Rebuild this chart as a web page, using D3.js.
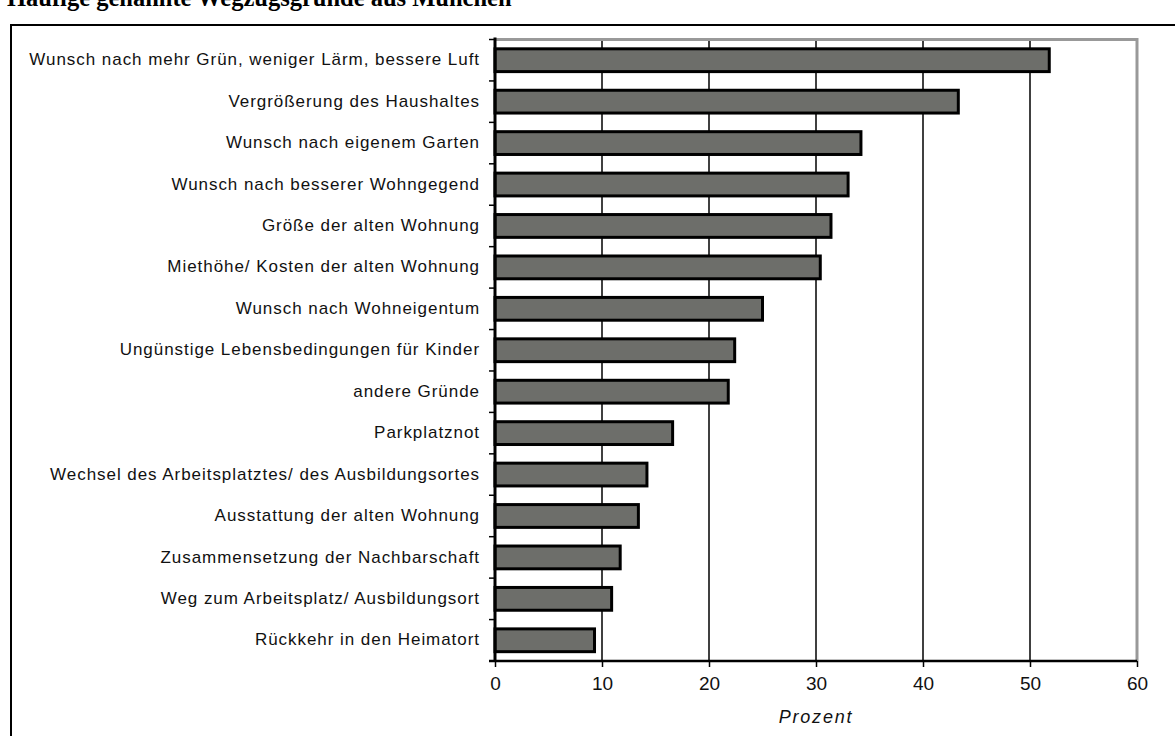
<!DOCTYPE html>
<html><head><meta charset="utf-8">
<script src="https://cdn.jsdelivr.net/npm/d3@7"></script>
<style>
html,body{margin:0;padding:0;background:#fff;overflow:hidden;}
svg{display:block;}
</style></head>
<body>
<svg id="chart" width="1175" height="736"></svg>
<script>
const title = "Häufige genannte Wegzugsgründe aus München";
const categories = [
  "Wunsch nach mehr Grün, weniger Lärm, bessere Luft",
  "Vergrößerung des Haushaltes",
  "Wunsch nach eigenem Garten",
  "Wunsch nach besserer Wohngegend",
  "Größe der alten Wohnung",
  "Miethöhe/ Kosten der alten Wohnung",
  "Wunsch nach Wohneigentum",
  "Ungünstige Lebensbedingungen für Kinder",
  "andere Gründe",
  "Parkplatznot",
  "Wechsel des Arbeitsplatztes/ des Ausbildungsortes",
  "Ausstattung der alten Wohnung",
  "Zusammensetzung der Nachbarschaft",
  "Weg zum Arbeitsplatz/ Ausbildungsort",
  "Rückkehr in den Heimatort"
];
const values = [51.8, 43.3, 34.2, 33.0, 31.4, 30.4, 25.0, 22.4, 21.8, 16.6, 14.2, 13.4, 11.7, 10.9, 9.3];
const xTicks = [0, 10, 20, 30, 40, 50, 60];
const xLabel = "Prozent";

const svg = d3.select("#chart");
const pLeft = 495, pRight = 1137, pTop = 39.5, pBottom = 661;

const x = d3.scaleLinear().domain([0, 60]).range([pLeft, pRight]);
const y = d3.scaleBand().domain(categories).range([pTop, pBottom]).paddingInner(0.45).paddingOuter(0.225);

// outer frame
svg.append("rect").attr("x", 11).attr("y", 25).attr("width", 1200).attr("height", 800)
  .attr("fill", "none").attr("stroke", "#000").attr("stroke-width", 2);

// title (cut off at top, as in the reference)
svg.append("text").attr("x", 7).attr("y", 6)
  .attr("font-family", "Liberation Serif, Times New Roman, serif").attr("font-weight", "bold")
  .attr("font-size", 24.5).attr("fill", "#000").text(title);

// grid lines
svg.append("g").selectAll("line").data(xTicks.filter(t => t > 0 && t < 60)).join("line")
  .attr("x1", d => x(d)).attr("x2", d => x(d)).attr("y1", pTop).attr("y2", pBottom)
  .attr("stroke", "#000").attr("stroke-width", 1.5);

// plot border top/right (grey)
svg.append("path").attr("d", `M${pLeft},${pTop}H${pRight}V${pBottom}`)
  .attr("fill", "none").attr("stroke", "#999").attr("stroke-width", 3);

// bars
svg.append("g").selectAll("rect").data(values).join("rect")
  .attr("x", x(0)).attr("y", (d, i) => y(categories[i]))
  .attr("width", d => x(d) - x(0)).attr("height", y.bandwidth())
  .attr("fill", "#6d6e6a").attr("stroke", "#000").attr("stroke-width", 3);

// y axis
const yAxis = d3.axisLeft(y).tickSize(0).tickPadding(15);
const gy = svg.append("g").attr("transform", `translate(${pLeft},0)`).call(yAxis);
gy.select(".domain").attr("stroke", "#000").attr("stroke-width", 3)
  .attr("d", `M0,${pTop - 2}V${pBottom}`);
gy.selectAll("text").attr("font-family", "Liberation Sans, Arial, sans-serif")
  .attr("font-size", 17).attr("letter-spacing", "0.95px").attr("fill", "#111").attr("dy", "0.3em");
// y boundary ticks
gy.append("g").selectAll("line").data(d3.range(categories.length + 1)).join("line")
  .attr("x1", -6).attr("x2", 0)
  .attr("y1", i => i === categories.length ? pBottom : y(categories[i]) - y.step() * y.paddingInner() / 2)
  .attr("y2", i => i === categories.length ? pBottom : y(categories[i]) - y.step() * y.paddingInner() / 2)
  .attr("stroke", "#000").attr("stroke-width", 1.5);

// x axis
const xAxis = d3.axisBottom(x).tickValues(xTicks).tickSize(6).tickPadding(10);
const gx = svg.append("g").attr("transform", `translate(0,${pBottom})`).call(xAxis);
gx.select(".domain").attr("stroke", "#000").attr("stroke-width", 2.5)
  .attr("d", `M${pLeft - 6},0H${pRight}`);
gx.selectAll(".tick line").attr("stroke", "#000").attr("stroke-width", 1.5);
gx.selectAll("text").attr("font-family", "Liberation Sans, Arial, sans-serif")
  .attr("font-size", 19).attr("fill", "#111");

svg.append("text").attr("x", (pLeft + pRight) / 2).attr("y", 723).attr("text-anchor", "middle")
  .attr("font-family", "Liberation Sans, Arial, sans-serif").attr("font-style", "italic")
  .attr("font-size", 18).attr("letter-spacing", "1.8px").attr("fill", "#111").text(xLabel);
</script>
</body></html>
